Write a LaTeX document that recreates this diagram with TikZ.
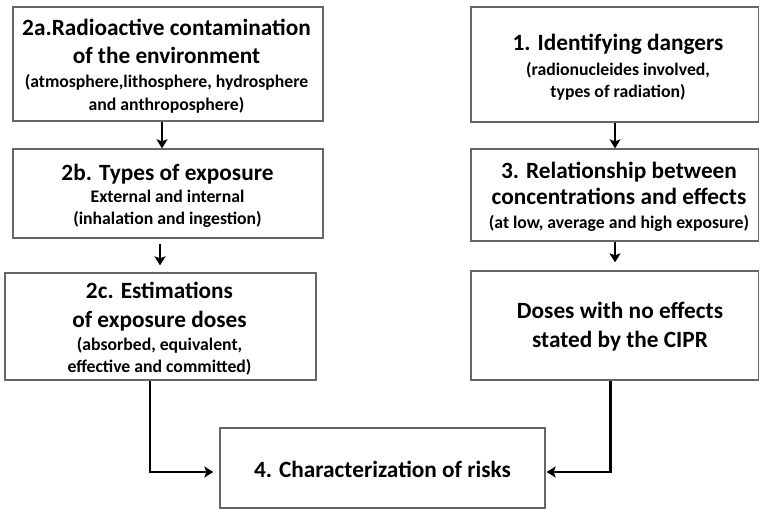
\documentclass[tikz,border=0pt]{standalone}
\usepackage{fontspec}
\setmainfont{Carlito}
\usetikzlibrary{arrows.meta}
\begin{document}
\begin{tikzpicture}[x=1pt,y=1pt,
  stagebox/.style={draw=black!60,line width=1.3pt,fill=white,inner sep=0pt},
  stagetext/.style={align=center,inner sep=0pt,font=\bfseries\fontsize{23.3}{28}\selectfont},
  flow/.style={line width=2.8pt,-{Stealth[length=9pt,width=11pt,inset=2pt]}}]
\useasboundingbox (0,0) rectangle (760,509);
\newcommand{\subtxt}[1]{{\fontsize{17.7}{22}\selectfont #1}}
% boxes
\node[stagebox,minimum width=310pt,minimum height=114pt]   (ra)    at (168,445) {};
\node[stagebox,minimum width=310pt,minimum height=89pt]    (rb)    at (168,315.5) {};
\node[stagebox,minimum width=311pt,minimum height=107pt]   (rc)    at (160.5,182.5) {};
\node[stagebox,minimum width=287.5pt,minimum height=115pt] (one)   at (614.75,444.5) {};
\node[stagebox,minimum width=287.5pt,minimum height=92pt]  (three) at (614.75,314) {};
\node[stagebox,minimum width=287.5pt,minimum height=109pt] (doses) at (614.75,183.5) {};
\node[stagebox,minimum width=325pt,minimum height=80pt]    (four)  at (382.5,41) {};
% texts
\node[stagetext] (ra-t) at (166.5,442.9)
  {2a.Radioactive contamination\\of the environment\\[-4pt]
   \subtxt{(atmosphere,lithosphere, hydrosphere}\\[-5pt]\subtxt{and anthroposphere)}};
\node[stagetext] (rb-t) at (167.5,313.4)
  {2b. Types of exposure\\[-6pt]\subtxt{External and internal}\\[-6pt]\subtxt{(inhalation and ingestion)}};
\node[stagetext] (rc-t) at (159.5,180.4)
  {2c. Estimations\\[1pt]of exposure doses\\[-5pt]\subtxt{(absorbed, equivalent,}\\[-6pt]\subtxt{effective and committed)}};
\node[stagetext] (one-t) at (618,441.9)
  {1. Identifying dangers\\[-3pt]\subtxt{(radionucleides involved,}\\[-6pt]\subtxt{types of radiation)}};
\node[stagetext] (three-t) at (619,312.4)
  {3. Relationship between\\[-2pt]concentrations and effects\\[-4pt]\subtxt{(at low, average and high exposure)}};
\node[stagetext] (doses-t) at (620,182.4)
  {Doses with no effects\\[1pt]stated by the CIPR};
\node[stagetext,anchor=base] (four-t) at (382.5,32) {4. Characterization of risks};
% connectors
\draw[flow] ([xshift=-6pt]ra.south) -- ([xshift=-6pt]rb.north);
\draw[flow] ([xshift=-8pt,yshift=-5pt]rb.south) -- ([xshift=-0.5pt,yshift=7pt]rc.north);
\draw[flow] ([xshift=0.25pt]one.south) -- ([xshift=0.25pt]three.north);
\draw[flow] ([xshift=0.25pt]three.south) -- ([xshift=0.25pt,yshift=8pt]doses.north);
\draw[flow] ([xshift=-10.5pt]rc.south) |- ([xshift=-6pt,yshift=-4pt]four.west);
\draw[flow] ([xshift=-4.25pt]doses.south) |- ([xshift=1pt,yshift=-4pt]four.east);
\end{tikzpicture}
\end{document}
